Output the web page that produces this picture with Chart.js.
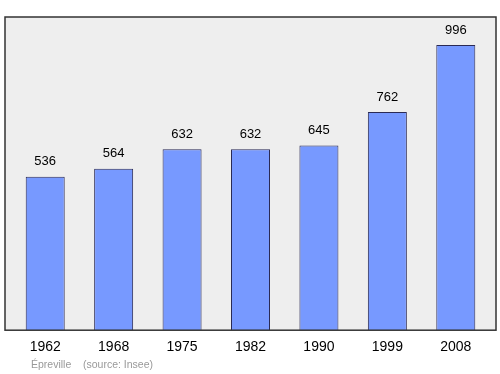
<!DOCTYPE html>
<html>
<head>
<meta charset="utf-8" />
<title>Épreville population</title>
<script src="https://cdn.jsdelivr.net/npm/chart.js"></script>
<style>
  body, html { margin: 0; padding: 0; background: #ffffff; }
  #wrap { width: 500px; height: 374px; }
</style>
</head>
<body>
<div id="wrap"><canvas id="myChart"></canvas></div>
<script>
const years = ["1962", "1968", "1975", "1982", "1990", "1999", "2008"];
const population = [536, 564, 632, 632, 645, 762, 996];
const footerTexts = ["Épreville", "(source: Insee)"];

// gray plot frame, a little wider than the bar area
const frame = {
  id: 'frame',
  beforeDatasetsDraw(chart) {
    const { ctx, chartArea: a } = chart;
    ctx.save();
    ctx.fillStyle = '#eeeeee';
    ctx.fillRect(a.left - 6, a.top, a.right - a.left + 12, a.bottom - a.top);
    ctx.restore();
  },
  afterDatasetsDraw(chart) {
    const { ctx, chartArea: a } = chart;
    ctx.save();
    ctx.strokeStyle = '#333333';
    ctx.lineWidth = 1.5;
    ctx.strokeRect(a.left - 6, a.top, a.right - a.left + 12, a.bottom - a.top);

    // value labels above bars
    ctx.fillStyle = '#000000';
    ctx.font = '13px "Liberation Sans", Arial, sans-serif';
    ctx.textAlign = 'center';
    ctx.textBaseline = 'middle';
    chart.getDatasetMeta(0).data.forEach((bar, i) => {
      ctx.fillText(String(population[i]), bar.x, bar.y - 15);
    });

    // footer
    ctx.fillStyle = '#999999';
    ctx.font = '10.5px "Liberation Sans", Arial, sans-serif';
    ctx.textAlign = 'left';
    ctx.fillText(footerTexts[0], 31, 365);
    ctx.fillText(footerTexts[1], 83, 365);
    ctx.restore();
  }
};

new Chart(document.getElementById('myChart'), {
  type: 'bar',
  data: {
    labels: years,
    datasets: [{
      data: population,
      backgroundColor: '#7799ff',
      borderColor: '#2a2a55',
      borderWidth: 1,
      barPercentage: 0.57,
      categoryPercentage: 1
    }]
  },
  options: {
    responsive: true,
    maintainAspectRatio: false,
    animation: false,
    layout: { padding: { left: 11, right: 10, top: 17, bottom: 9 } },
    plugins: { legend: { display: false }, tooltip: { enabled: false } },
    scales: {
      y: { display: false, min: 0, max: 1094 },
      x: {
        grid: { display: false, drawTicks: false },
        border: { display: false },
        ticks: {
          color: '#000000',
          padding: 9,
          font: { size: 14, family: '"Liberation Sans", Arial, sans-serif' }
        }
      }
    }
  },
  plugins: [frame]
});
</script>
</body>
</html>
